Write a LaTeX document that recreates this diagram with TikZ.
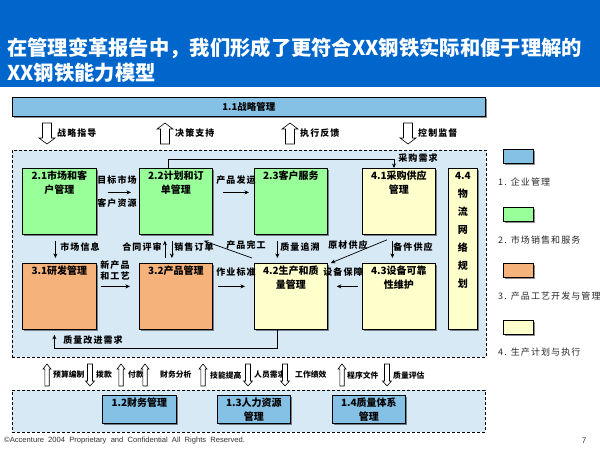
\documentclass[tikz,border=0pt]{standalone}
\usepackage{fontspec}
\setmainfont{Noto Sans CJK SC}
\newfontfamily\cjksp[LetterSpace=12]{Noto Sans CJK SC}
\newfontfamily\footfont{Liberation Sans}
\usetikzlibrary{shadows,calc,arrows.meta}
\definecolor{titleblue}{HTML}{0066CC}
\definecolor{barblue}{HTML}{85C1E5}
\definecolor{bgblue}{HTML}{D7E9F5}
\definecolor{gbox}{HTML}{99FF99}
\definecolor{obox}{HTML}{F5B27A}
\definecolor{ybox}{HTML}{FFFFCC}
\tikzset{
  box/.style={draw=black,line width=0.8pt,anchor=north west,inner sep=0pt,
    drop shadow={shadow xshift=2pt,shadow yshift=-2pt,fill=black,opacity=0.45}},
  boxtext/.style={font=\bfseries\fontsize{10}{14}\selectfont,align=center,inner sep=0pt,anchor=north},
  area/.style={draw=black,line width=0.8pt,dash pattern=on 3pt off 2pt,fill=bgblue,anchor=north west,inner sep=0pt},
  flow/.style={draw=black,line width=0.7pt,-{Stealth[length=4.5pt,width=4pt]}},
  lbl/.style={font=\cjksp\bfseries\fontsize{9}{11}\selectfont,inner sep=0pt,align=center},
  blbl/.style={font=\bfseries\fontsize{7.8}{9}\selectfont,inner sep=0pt,anchor=west},
  hollow/.style={draw=black,line width=0.6pt,fill=white},
  leg/.style={font=\cjksp\fontsize{9}{11}\selectfont,inner sep=0pt,anchor=west,text=black!85}
}
% hollow block arrows: x, ytop, ybottom, shaft half, head half, head length
\newcommand\hdown[6]{\draw[hollow] (#1-#4,#2) -- (#1+#4,#2) -- (#1+#4,#3-#6) -- (#1+#5,#3-#6) -- (#1,#3) -- (#1-#5,#3-#6) -- (#1-#4,#3-#6) -- cycle;}
\newcommand\hup[6]{\draw[hollow] (#1,#2) -- (#1+#5,#2+#6) -- (#1+#4,#2+#6) -- (#1+#4,#3) -- (#1-#4,#3) -- (#1-#4,#2+#6) -- (#1-#5,#2+#6) -- cycle;}
\newcommand\mkbox[7]{\node[box,fill=#6,minimum width=#4pt,minimum height=#5pt] (#1) at (#2,#3) {};
  \node[boxtext] (#1t) at ($(#1.north)+(0,3)$) {#7};}
\begin{document}
\begin{tikzpicture}[x=1pt,y=-1pt]
\useasboundingbox (0,0) rectangle (600,450);
\fill[white] (0,0) rectangle (600,450);
% title
\fill[titleblue] (0,0) rectangle (600,87);
\node[anchor=west,text=white,font=\bfseries\fontsize{20.3}{24}\selectfont,inner sep=0pt] (title1) at (7,48) {在管理变革报告中，我们形成了更符合XX钢铁实际和便于理解的};
\node[anchor=west,text=white,font=\bfseries\fontsize{20.3}{24}\selectfont,inner sep=0pt] (title2) at (7,73) {XX钢铁能力模型};
% 1.1 bar
\node[box,fill=barblue,minimum width=473pt,minimum height=19pt] (b11) at (12,97) {};
\node[font=\bfseries\fontsize{9.5}{11}\selectfont,inner sep=0pt] (b11t) at (b11) {1.1战略管理};
% top hollow arrows
\hdown{47}{123}{144}{4.5}{8}{6}
\node[lbl,anchor=west] (ta1) at (57,133) {战略指导};
\hup{165}{123}{144}{4.5}{8}{6}
\node[lbl,anchor=west] (ta2) at (175,133) {决策支持};
\hup{290}{123}{144}{4.5}{8}{6}
\node[lbl,anchor=west] (ta3) at (300,133) {执行反馈};
\hdown{408}{123}{144}{4.5}{8}{6}
\node[lbl,anchor=west] (ta4) at (418,133) {控制监督};
% main area
\node[area,minimum width=474pt,minimum height=207pt] (area1) at (12,150) {};
% boxes
\mkbox{b21}{22}{168}{74}{66}{gbox}{2.1市场和客\\户管理}
\mkbox{b22}{139}{168}{73}{66}{gbox}{2.2计划和订\\单管理}
\mkbox{b23}{254}{168}{73}{66}{gbox}{2.3客户服务}
\mkbox{b41}{362}{168}{73}{66}{ybox}{4.1采购供应\\管理}
\node[box,fill=ybox,minimum width=29pt,minimum height=161pt] (b44) at (448,168) {};
\node[boxtext,font=\bfseries\fontsize{10}{18}\selectfont] (b44t) at ($(b44.north)+(0,4)$) {4.4\\物\\流\\网\\络\\规\\划};
\mkbox{b31}{22}{263}{74}{66}{obox}{3.1研发管理}
\mkbox{b32}{139}{263}{73}{66}{obox}{3.2产品管理}
\mkbox{b42}{254}{263}{73}{66}{ybox}{4.2生产和质\\量管理}
\mkbox{b43}{362}{263}{73}{66}{ybox}{4.3设备可靠\\性维护}
% connectors
\draw[flow] ($(b22.north west)+(29,0)$) -- ++(0,-9) -| ($(b41.north west)+(32,0)$);
\node[lbl] (l1) at (418,158) {采购需求};
\draw[flow] ($(b21.east)+(11,-9)$) -- ($(b22.west)+(-8,-9)$);
\node[lbl] (l2) at (117,180) {目标市场};
\node[lbl] (l3) at (117,203) {客户资源};
\draw[flow] ($(b22.east)+(10,-9)$) -- ($(b23.west)+(-5,-9)$);
\node[lbl] (l4) at (236,180) {产品发运};
\draw[flow] ($(b21.south)+(-4,6)$) -- ($(b31.north)+(-4,-5)$);
\node[lbl] (l5) at (80,247) {市场信息};
\draw[flow] ($(b32.north)+(-11,-5)$) -- ($(b22.south)+(-11,6)$);
\node[lbl] (l6) at (142,247) {合同评审};
\draw[flow] ($(b22.south)+(-4,6)$) -- ($(b32.north)+(-4,-5)$);
\node[lbl] (l7) at (194,247) {销售订单};
\draw[flow] ($(b42.north west)+(-2,-5)$) -- ($(b22.south east)+(-9,6)$);
\node[lbl] (l8) at (246,245) {产品完工};
\draw[flow] ($(b23.south)+(-13.5,6)$) -- ($(b42.north)+(-13.5,-5)$);
\node[lbl] (l9) at (300,247) {质量追溯};
\draw[flow] ($(b41.south west)+(25,5)$) -- ($(b42.north east)+(3,0)$);
\node[lbl] (l10) at (348,245) {原材供应};
\draw[flow] ($(b41.south)+(-6.5,6)$) -- ($(b43.north)+(-6.5,-5)$);
\node[lbl] (l11) at (413,247) {备件供应};
\draw[flow] ($(b31.east)+(4,-10)$) -- ($(b32.west)+(-9,-10)$);
\node[lbl] (l12) at (115,271) {新产品\\和工艺};
\draw[flow] ($(b32.east)+(5,-10)$) -- ($(b42.west)+(-9,-10)$);
\node[lbl] (l13) at (236,272) {作业标准};
\draw[flow] ($(b43.west)+(-4,-10)$) -- ($(b42.east)+(9,-10)$);
\node[lbl] (l14) at (343,272) {设备保障};
\draw[flow] ($(b42.south)+(-13.5,0)$) -- ++(0,19) -| ($(b31.south)+(-5,5)$);
\node[lbl] (l15) at (93,340) {质量改进需求};
% bottom hollow arrows
\hup{47}{364}{386}{2.2}{4}{5}
\node[blbl] (ba1) at (53,375) {预算编制};
\hdown{90}{364}{386}{2.5}{4.5}{5}
\node[blbl] (ba2) at (96,375) {拨款};
\hup{121}{364}{386}{2.2}{4}{5}
\node[blbl] (ba3) at (128,375) {付款};
\hup{145}{364}{386}{2.2}{4}{5}
\node[blbl] (ba4) at (160,375) {财务分析};
\hup{203}{364}{386}{2.2}{4}{5}
\node[blbl] (ba5) at (210,375) {技能提高};
\hdown{248}{364}{386}{2.5}{4.5}{5}
\node[blbl] (ba6) at (254,375) {人员需求};
\hdown{285}{364}{386}{2.5}{4.5}{5}
\node[blbl] (ba7) at (295,375) {工作绩效};
\hup{342}{364}{386}{2.2}{4}{5}
\node[blbl] (ba8) at (347,375) {程序文件};
\hdown{387}{364}{386}{2.5}{4.5}{5}
\node[blbl] (ba9) at (393,375) {质量评估};
% bottom area
\node[area,minimum width=473pt,minimum height=42pt] (area2) at (12,390) {};
\mkbox{b12}{102}{395}{74}{28}{barblue}{1.2财务管理}
\mkbox{b13}{217}{395}{73}{28}{barblue}{1.3人力资源\\管理}
\mkbox{b14}{332}{395}{73}{28}{barblue}{1.4质量体系\\管理}
% legend
\node[box,fill=barblue,minimum width=30pt,minimum height=14pt] (lg1) at (503,149) {};
\node[leg] (lg1t) at (498,182) {1. 企业管理};
\node[box,fill=gbox,minimum width=30pt,minimum height=14pt] (lg2) at (503,207) {};
\node[leg] (lg2t) at (498,240) {2. 市场销售和服务};
\node[box,fill=obox,minimum width=30pt,minimum height=14pt] (lg3) at (503,263) {};
\node[leg] (lg3t) at (498,296) {3. 产品工艺开发与管理};
\node[box,fill=ybox,minimum width=30pt,minimum height=14pt] (lg4) at (503,320) {};
\node[leg] (lg4t) at (498,352) {4. 生产计划与执行};
% footer
\node[anchor=west,inner sep=0pt,font=\footfont\fontsize{7.6}{8}\selectfont,text=black!80] (foot) at (4,441) {©Accenture\ \ 2004\ \ Proprietary\ \ and\ \ Confidential\ \ All\ \ Rights\ \ Reserved.};
\node[inner sep=0pt,font=\footfont\fontsize{8}{9}\selectfont,text=black!80] (pg) at (584,441) {7};
\end{tikzpicture}
\end{document}
